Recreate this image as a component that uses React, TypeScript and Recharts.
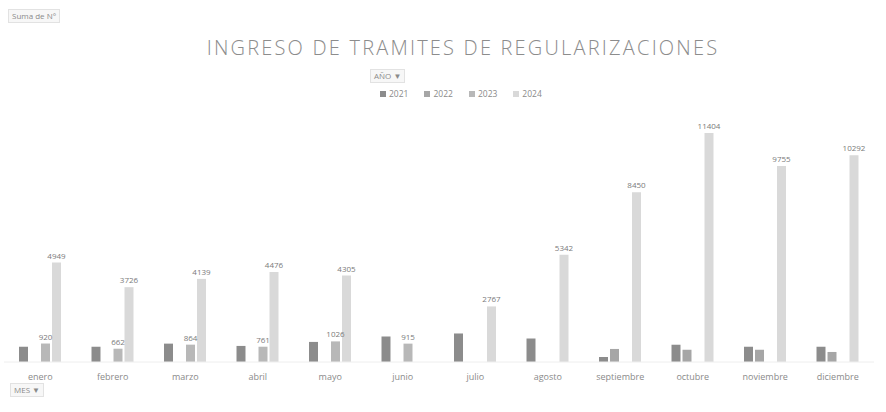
import React from "react";
import { BarChart, Bar, XAxis, YAxis, Legend, LabelList } from "recharts";

const months = ["enero", "febrero", "marzo", "abril", "mayo", "junio", "julio", "agosto", "septiembre", "octubre", "noviembre", "diciembre"];
const y2021 = [760, 760, 915, 800, 1000, 1270, 1420, 1170, 250, 860, 760, 760];
const y2022 = [null, null, null, null, null, null, null, null, 650, 610, 610, 500];
const y2023 = [920, 662, 864, 761, 1026, 915, null, null, null, null, null, null];
const y2024 = [4949, 3726, 4139, 4476, 4305, null, 2767, 5342, 8450, 11404, 9755, 10292];

const seriesNames = ["2021", "2022", "2023", "2024"];
const seriesColors = ["#8c8c8c", "#a6a6a6", "#b8b8b8", "#d9d9d9"];

const data = months.map((m, i) => ({
  mes: m,
  "2021": y2021[i],
  "2022": y2022[i],
  "2023": y2023[i],
  "2024": y2024[i],
}));

const FONT = "'Open Sans', 'Liberation Sans', sans-serif";

const btn: React.CSSProperties = {
  position: "absolute",
  fontFamily: FONT,
  fontSize: 8,
  color: "#8a8a8a",
  border: "1px solid #e2e2e2",
  background: "#f7f7f7",
  padding: "1px 3px",
  lineHeight: "10px",
};

const renderLegend = (props: any) => {
  const { payload } = props;
  return (
    <div style={{ display: "flex", gap: 16, fontFamily: FONT, fontSize: 8.5, color: "#8a8a8a", lineHeight: "10px" }}>
      {(payload || []).map((p: any) => (
        <span key={p.value} style={{ display: "flex", alignItems: "center", gap: 3 }}>
          <span style={{ width: 6, height: 6, background: p.color, display: "inline-block" }} />
          {p.value}
        </span>
      ))}
    </div>
  );
};

export default function App() {
  return (
    <div style={{ position: "relative", width: 886, height: 412, background: "#fff", overflow: "hidden" }}>
      <style>{`body{margin:0;background:#fff}`}</style>
      <div style={{ ...btn, left: 8, top: 9 }}>Suma de N°</div>
      <div
        style={{
          position: "absolute",
          left: 0,
          width: 926,
          top: 34,
          textAlign: "center",
          fontFamily: FONT,
          fontWeight: 300,
          fontSize: 20,
          letterSpacing: 2.2,
          color: "#8c8c8c",
        }}
      >
        INGRESO DE TRAMITES DE REGULARIZACIONES
      </div>
      <div style={{ ...btn, left: 370, top: 69 }}>AÑO ▼</div>
      <div style={{ ...btn, left: 10, top: 383 }}>MES ▼</div>
      <BarChart
        width={886}
        height={412}
        data={data}
        margin={{ top: 110, right: 12, bottom: 30, left: 4 }}
        barSize={9}
        barGap={2}
      >
        <XAxis
          dataKey="mes"
          height={20}
          tickLine={false}
          axisLine={{ stroke: "#eeeeee" }}
          interval={0}
          tick={{ fontSize: 9, fill: "#8a8a8a", fontFamily: FONT }}
          tickMargin={6}
        />
        <YAxis hide domain={[0, 12000]} />
        <Legend
          verticalAlign="top"
          align="left"
          content={renderLegend}
          wrapperStyle={{ top: 89, left: 380, width: 200, height: 11 }}
        />
        {seriesNames.map((s, i) => (
          <Bar key={s} dataKey={s} fill={seriesColors[i]} isAnimationActive={false}>
            {(s === "2023" || s === "2024") && (
              <LabelList dataKey={s} position="top" offset={4} style={{ fontSize: 8, fill: "#7a7a7a", fontFamily: FONT }} />
            )}
          </Bar>
        ))}
      </BarChart>
    </div>
  );
}
